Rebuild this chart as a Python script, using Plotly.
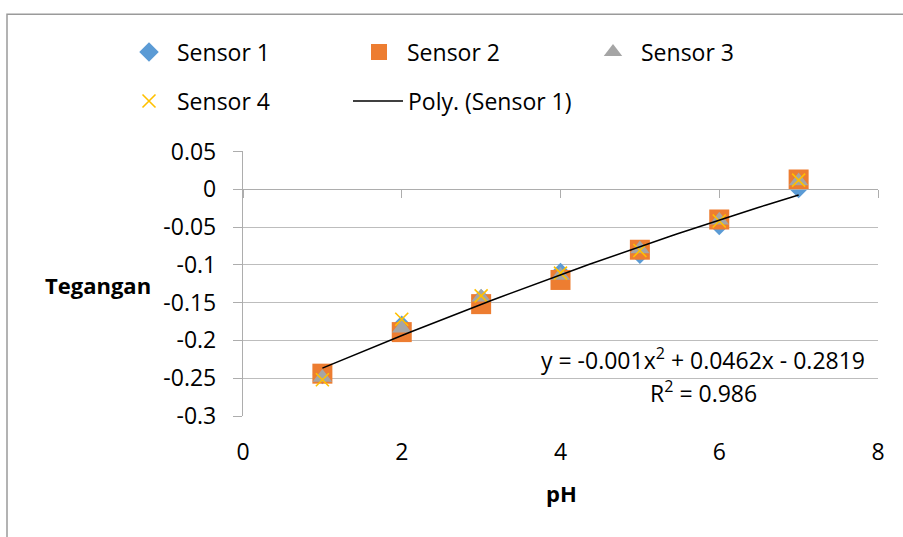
import plotly.graph_objects as go
import numpy as np

ph = [1, 2, 3, 4, 5, 6, 7]
sensor1 = [-0.245, -0.180, -0.145, -0.110, -0.086, -0.048, 0.001]
sensor2 = [-0.244, -0.189, -0.152, -0.120, -0.080, -0.040, 0.013]
sensor3 = [-0.249, -0.184, -0.143, -0.114, -0.079, -0.041, 0.011]
sensor4 = [-0.252, -0.172, -0.141, -0.111, -0.081, -0.042, 0.012]
poly_coef = [-0.001, 0.0462, -0.2819]   # trendline of Sensor 1 (from chart)
r_squared = 0.986

y_ticks = [0.05, 0, -0.05, -0.1, -0.15, -0.2, -0.25, -0.3]
y_ticktext = ["0.05", "0", "-0.05", "-0.1", "-0.15", "-0.2", "-0.25", "-0.3"]
x_ticks = [0, 2, 4, 6, 8]

FONT = "Open Sans"
FS = 23
W, H = 903, 537

fig = go.Figure()
fig.add_trace(go.Scatter(x=ph, y=sensor1, mode="markers", name="Sensor 1",
                         marker=dict(symbol="diamond", size=15, color="#5B9BD5"), legend="legend"))
fig.add_trace(go.Scatter(x=ph, y=sensor2, mode="markers", name="Sensor 2",
                         marker=dict(symbol="square", size=20, color="#ED7D31"), legend="legend2"))
fig.add_trace(go.Scatter(x=ph, y=sensor3, mode="markers", name="Sensor 3",
                         marker=dict(symbol="triangle-up", size=17, color="#A5A5A5"), legend="legend3"))
fig.add_trace(go.Scatter(x=ph, y=sensor4, mode="markers", name="Sensor 4",
                         marker=dict(symbol="x-thin", size=13, color="#FFC000",
                                     line=dict(color="#FFC000", width=1.6)), legend="legend4"))
xs = np.linspace(ph[0], ph[-1], 60)
fig.add_trace(go.Scatter(x=xs, y=np.polyval(poly_coef, xs), mode="lines", name="Poly. (Sensor 1)",
                         line=dict(color="black", width=1.5), legend="legend5"))

# secondary x axis crossing at y=0 (Excel style)
fig.add_trace(go.Scatter(x=[0, 8], y=[0, 0], mode="markers", marker=dict(opacity=0),
                         xaxis="x2", showlegend=False, hoverinfo="skip"))


def leg(px, py, iw=46):
    return dict(orientation="h", xref="container", yref="container",
                x=px / W, y=1 - py / H, xanchor="left", yanchor="middle", itemwidth=iw,
                font=dict(family=FONT, size=FS, color="black"), bgcolor="rgba(0,0,0,0)")


fig.update_layout(
    width=W, height=H,
    margin=dict(l=243, r=25, t=150, b=121),
    paper_bgcolor="white", plot_bgcolor="white",
    font=dict(family=FONT, size=FS, color="black"),
    xaxis=dict(range=[0, 8], tickvals=x_ticks, showgrid=False, zeroline=False,
               showline=False, ticks="", ticklabelstandoff=20,
               tickfont=dict(family=FONT, size=FS, color="black")),
    xaxis2=dict(range=[0, 8], tickvals=x_ticks, overlaying="x", anchor="free",
                position=(0 - (-0.3)) / 0.35, showline=True, linecolor="#ADADAD", linewidth=1.3,
                ticks="outside", ticklen=8, tickcolor="#ADADAD", tickwidth=1.3,
                showticklabels=False, showgrid=False, zeroline=False),
    yaxis=dict(range=[-0.3, 0.05], tickvals=y_ticks, ticktext=y_ticktext,
               showgrid=True, gridcolor="#BDBDBD", gridwidth=1.3, zeroline=False,
               showline=True, linecolor="#ADADAD", linewidth=1.3,
               ticks="outside", ticklen=9, tickcolor="#ADADAD", tickwidth=1.3,
               ticklabelstandoff=12,
               tickfont=dict(family=FONT, size=FS, color="black")),
    legend=leg(121, 52),
    legend2=leg(351, 52),
    legend3=leg(585, 52),
    legend4=leg(121, 101),
    legend5=leg(348, 101, iw=50),
    showlegend=True,
)

fig.add_annotation(text="<b>Tegangan</b>", xref="paper", yref="paper", xanchor="center", yanchor="middle",
                   x=(98 - 243) / 635, y=(416 - 284) / 266, showarrow=False,
                   font=dict(family=FONT, size=22, color="black"))
fig.add_annotation(text="<b>pH</b>", xref="paper", yref="paper", xanchor="center", yanchor="middle",
                   x=(561 - 243) / 635, y=(416 - 493) / 266, showarrow=False,
                   font=dict(family=FONT, size=22, color="black"))
fig.add_annotation(text="y = %gx<sup>2</sup> + %gx - %g" % (poly_coef[0], poly_coef[1], -poly_coef[2]),
                   xref="paper", yref="paper", xanchor="center", yanchor="middle",
                   x=(703 - 243) / 635, y=(416 - 359) / 266, showarrow=False,
                   font=dict(family=FONT, size=FS, color="black"))
fig.add_annotation(text="R<sup>2</sup> = %g" % r_squared,
                   xref="paper", yref="paper", xanchor="center", yanchor="middle",
                   x=(703 - 243) / 635, y=(416 - 392) / 266, showarrow=False,
                   font=dict(family=FONT, size=FS, color="black"))

# chart frame
fig.add_shape(type="rect", xref="paper", yref="paper",
              x0=(7 - 243) / 635, x1=(920 - 243) / 635,
              y0=(416 - 560) / 266, y1=(416 - 12) / 266,
              line=dict(color="#9A9A9A", width=1.5), fillcolor="rgba(0,0,0,0)", layer="above")

fig.write_html("out.html", post_script="document.body.style.margin='0';",
               config={"displayModeBar": False})
